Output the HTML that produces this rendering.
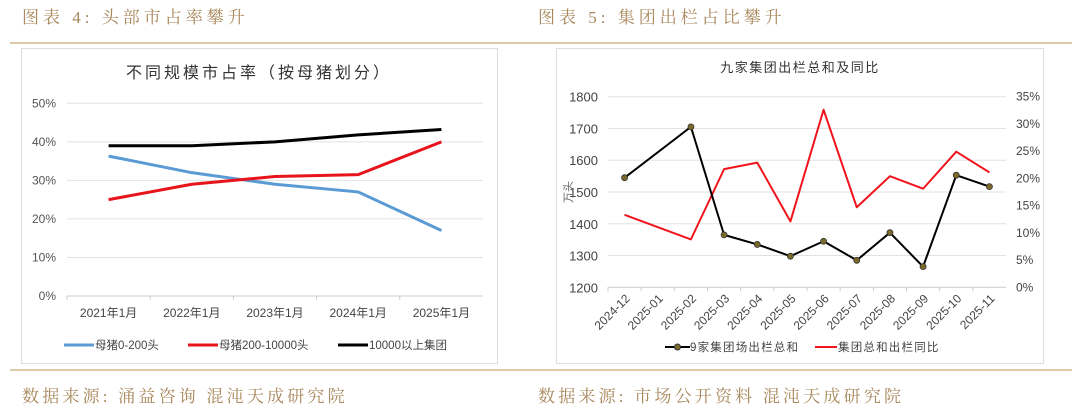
<!DOCTYPE html>
<html><head><meta charset="utf-8"><style>
body{margin:0;width:1080px;height:413px;background:#fff;overflow:hidden;font-family:"Liberation Sans","Noto Sans CJK SC",sans-serif}
svg{display:block}
</style></head><body>
<svg id="s" width="1080" height="413">
<text x="22" y="23" font-size="17" letter-spacing="4" fill="#a8875a" font-family="'Liberation Serif','Noto Serif CJK SC',serif">图表 4:  头部市占率攀升</text>
<text x="538" y="23" font-size="17" letter-spacing="4" fill="#a8875a" font-family="'Liberation Serif','Noto Serif CJK SC',serif">图表 5:  集团出栏占比攀升</text>
<rect x="10" y="42" width="1062" height="2" fill="#dccaa8"/>
<rect x="10" y="369" width="1062" height="2" fill="#dccaa8"/>
<text x="22" y="402" font-size="17" letter-spacing="3.2" fill="#a8875a" font-family="'Liberation Serif','Noto Serif CJK SC',serif">数据来源:  涌益咨询  混沌天成研究院</text>
<text x="538" y="402" font-size="17" letter-spacing="3.2" fill="#a8875a" font-family="'Liberation Serif','Noto Serif CJK SC',serif">数据来源:  市场公开资料  混沌天成研究院</text>
<rect x="21.5" y="48.5" width="476" height="315" fill="#fff" stroke="#ddd"/>
<rect x="556.5" y="48.5" width="487" height="315" fill="#fff" stroke="#ddd"/>
<text x="259" y="78" font-size="16" letter-spacing="3" fill="#333" text-anchor="middle">不同规模市占率（按母猪划分）</text>
<text x="800" y="72" font-size="13" letter-spacing="1.5" fill="#333" text-anchor="middle">九家集团出栏总和及同比</text>
<g id="L"></g><g id="R"></g>
</svg>
<script>
const NS="http://www.w3.org/2000/svg";
function mk(p,t,a){const e=document.createElementNS(NS,t);for(const k in a)e.setAttribute(k,a[k]);p.appendChild(e);return e;}
// left chart data
const leftCats=["2021年1月","2022年1月","2023年1月","2024年1月","2025年1月"];
const leftTicks=[0,10,20,30,40,50];
const blueVals=[36.3,32,29,27,17];
const redVals=[25,29,31,31.5,40];
const blackVals=[39,39,40,41.8,43.2];
// right chart data
const rightCats=["2024-12","2025-01","2025-02","2025-03","2025-04","2025-05","2025-06","2025-07","2025-08","2025-09","2025-10","2025-11"];
const leftAxisTicks=[1200,1300,1400,1500,1600,1700,1800];
const rightAxisTicks=[0,5,10,15,20,25,30,35];
const outputVals=[1545,null,1705,1365,1335,1298,1345,1285,1372,1265,1553,1517];
const yoyVals=[13.3,null,8.8,21.7,22.9,12.1,32.6,14.7,20.4,18.1,24.9,21.1];

(function(){
const g=document.getElementById('L');
const x0=67,x1=483,y0=296,y1=103.3;
const bw=(x1-x0)/leftCats.length;
const X=i=>x0+bw*(i+0.5), Y=v=>y0-(v/50)*(y0-y1);
leftTicks.forEach(t=>{
 const l=mk(g,'line',{x1:x0,x2:x1,y1:Y(t),y2:Y(t),stroke:t?'#e2e2e2':'#ccc'});
 
 
 const tx=mk(g,'text',{x:56,y:Y(t)+4,'font-size':12,fill:'#555','text-anchor':'end'});tx.textContent=t+'%';
 
 
});
leftCats.forEach((c,i)=>{
 const tk=mk(g,'line',{x1:x0+bw*i,x2:x0+bw*i,y1:y0,y2:y0+4,stroke:'#ccc'});
 
 
 const tx=mk(g,'text',{x:X(i),y:317,'font-size':12,fill:'#444','text-anchor':'middle'});tx.textContent=c;
 
 
});
[[blueVals,'#5b9bd5','blue-series'],[redVals,'#e8141c','red-series'],[blackVals,'#000','black-series']].forEach(([d,c,n])=>{
 const p=mk(g,'polyline',{points:d.map((v,i)=>X(i)+','+Y(v)).join(' '),fill:'none',stroke:c,'stroke-width':3,'stroke-linejoin':'round'});
 
 
});
const leg=[['#5b9bd5','母猪0-200头',64],['#e8141c','母猪200-10000头',188],['#000','10000以上集团',338]];
leg.forEach(([c,t,x])=>{
 const l=mk(g,'line',{x1:x,x2:x+30,y1:345,y2:345,stroke:c,'stroke-width':3});
 
 
 const tx=mk(g,'text',{x:x+31,y:349,'font-size':11.5,fill:'#444'});tx.textContent=t;
 
 
});
})();

(function(){
const g=document.getElementById('R');
const x0=608,x1=1006,y0=287.3,y1=96.7;
const bw=(x1-x0)/rightCats.length;
const X=i=>x0+bw*(i+0.5);
const YL=v=>y0-(v-1200)/600*(y0-y1), YR=v=>y0-v/35*(y0-y1);
leftAxisTicks.forEach(t=>{
 const l=mk(g,'line',{x1:x0,x2:x1,y1:YL(t),y2:YL(t),stroke:t>1200?'#e2e2e2':'#ccc'});
 
 
 const tx=mk(g,'text',{x:598,y:YL(t)+5,'font-size':13,fill:'#444','text-anchor':'end'});tx.textContent=t;
 
 
});
rightAxisTicks.forEach(t=>{
 const tx=mk(g,'text',{x:1016,y:YR(t)+4,'font-size':12,fill:'#444'});tx.textContent=t+'%';
 
 
});
const yt=mk(g,'text',{x:0,y:0,'font-size':11,fill:'#666','text-anchor':'middle',transform:'translate(572,192) rotate(-90)'});yt.textContent='万头';


rightCats.forEach((c,i)=>{
 const tk=mk(g,'line',{x1:x0+bw*i,x2:x0+bw*i,y1:y0,y2:y0+4,stroke:'#ccc'});
 
 
 const tx=mk(g,'text',{x:0,y:0,'font-size':12,fill:'#444','text-anchor':'end',transform:`translate(${X(i)+6},${y0+12}) rotate(-45)`});tx.textContent=c;
 
 
});
const pts=(d,Y)=>d.map((v,i)=>v==null?null:X(i)+','+Y(v)).filter(Boolean).join(' ');
const rl=mk(g,'polyline',{points:pts(yoyVals,YR),fill:'none',stroke:'#f0141c','stroke-width':2,'stroke-linejoin':'round'});


const bl=mk(g,'polyline',{points:pts(outputVals,YL),fill:'none',stroke:'#000','stroke-width':2,'stroke-linejoin':'round'});


outputVals.forEach((v,i)=>{if(v==null)return;
 const c=mk(g,'circle',{cx:X(i),cy:YL(v),r:3,fill:'#7a6a2a',stroke:'#333','stroke-width':0.8});
 
 
});
const l1=mk(g,'line',{x1:665,x2:690,y1:347,y2:347,stroke:'#000','stroke-width':2});


const c1=mk(g,'circle',{cx:677.5,cy:347,r:3,fill:'#7a6a2a',stroke:'#333'});


const t1=mk(g,'text',{x:690,y:351,'font-size':11.5,'letter-spacing':1.2,fill:'#444'});t1.textContent='9家集团场出栏总和';


const l2=mk(g,'line',{x1:815,x2:837,y1:347,y2:347,stroke:'#f0141c','stroke-width':2});


const t2=mk(g,'text',{x:838,y:351,'font-size':11.5,'letter-spacing':1.2,fill:'#444'});t2.textContent='集团总和出栏同比';


})();
</script>
</body></html>
